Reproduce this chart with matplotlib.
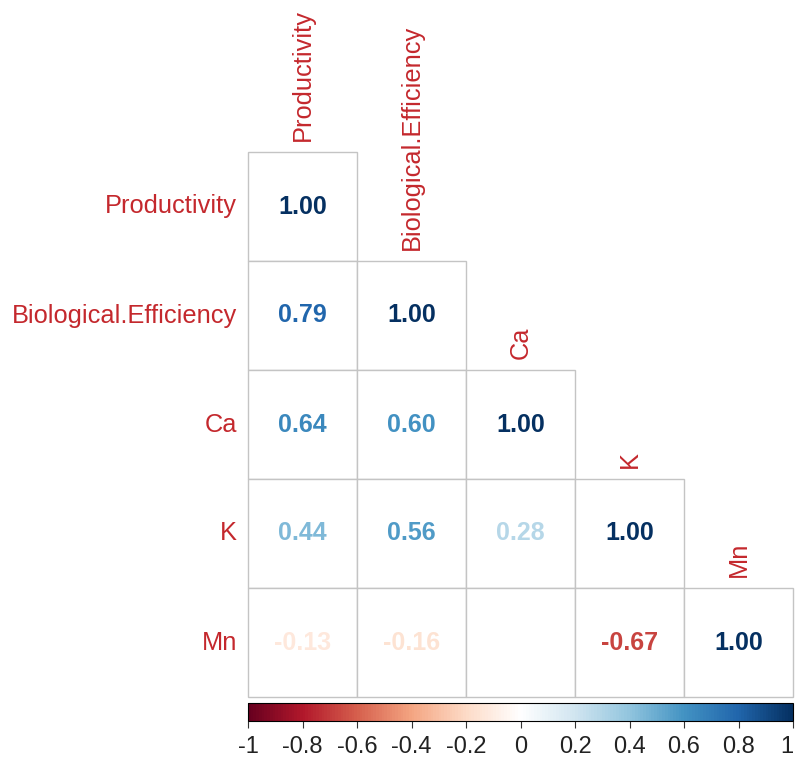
import numpy as np
import matplotlib
matplotlib.use("Agg")
import matplotlib.pyplot as plt
from matplotlib.colors import LinearSegmentedColormap, Normalize
from matplotlib.cm import ScalarMappable

# variables and lower-triangle correlations (NaN = not shown)
names = ["Productivity", "Biological.Efficiency", "Ca", "K", "Mn"]
row_productivity = [1.00]
row_bio_eff = [0.79, 1.00]
row_ca = [0.64, 0.60, 1.00]
row_k = [0.44, 0.56, 0.28, 1.00]
row_mn = [-0.13, -0.16, np.nan, -0.67, 1.00]
rows = [row_productivity, row_bio_eff, row_ca, row_k, row_mn]
cbar_ticks = [-1, -0.8, -0.6, -0.4, -0.2, 0, 0.2, 0.4, 0.6, 0.8, 1]

plt.rcParams['font.family'] = ['Liberation Sans', 'DejaVu Sans']

# RdBu palette as used by corrplot
rdbu = LinearSegmentedColormap.from_list("rdbu", [
    "#67001F", "#B2182B", "#D6604D", "#F4A582", "#FDDBC7", "#FFFFFF",
    "#D1E5F0", "#92C5DE", "#4393C3", "#2166AC", "#053061"], N=200)
norm = Normalize(-1, 1)
label_col = "#C4282D"
grid_col = "#C4C4C4"

fig = plt.figure(figsize=(7.95, 7.6), dpi=100)
ax = fig.add_axes([248/795, 1-697/760, 545/795, 545/760])
n = len(names)
ax.set_xlim(0, n)
ax.set_ylim(n, 0)
ax.axis("off")

for i, vals in enumerate(rows):
    for j, v in enumerate(vals):
        ax.add_patch(plt.Rectangle((j, i), 1, 1, facecolor="white",
                                   edgecolor=grid_col, lw=1.0, clip_on=False))
        if not np.isnan(v):
            ax.text(j + 0.5, i + 0.5, "%.2f" % v, ha="center", va="center",
                    fontsize=18, fontweight="bold", color=rdbu(norm(v)))
    # row label on the left
    ax.text(-0.1, i + 0.5, names[i], ha="right", va="center",
            fontsize=18.3, color=label_col, clip_on=False)
    # column label above the diagonal cell
    ax.text(i + 0.5, i - 0.1, names[i], ha="center", va="bottom",
            rotation=90, fontsize=18.3, color=label_col, clip_on=False)

# colour legend
cax = fig.add_axes([248/795, 1-721/760, 545/795, 18/760])
cb = fig.colorbar(ScalarMappable(norm=norm, cmap=rdbu), cax=cax,
                  orientation="horizontal", ticks=cbar_ticks)
cb.ax.set_xticklabels(["%g" % t for t in cbar_ticks])
cb.ax.tick_params(labelsize=17, length=5, width=0.8, color="#333333",
                  labelcolor="#222222", pad=6)
cb.ax.get_xticklabels()[-1].set_horizontalalignment("right")
cb.outline.set_linewidth(0.8)

fig.savefig("out.png", dpi=100)
